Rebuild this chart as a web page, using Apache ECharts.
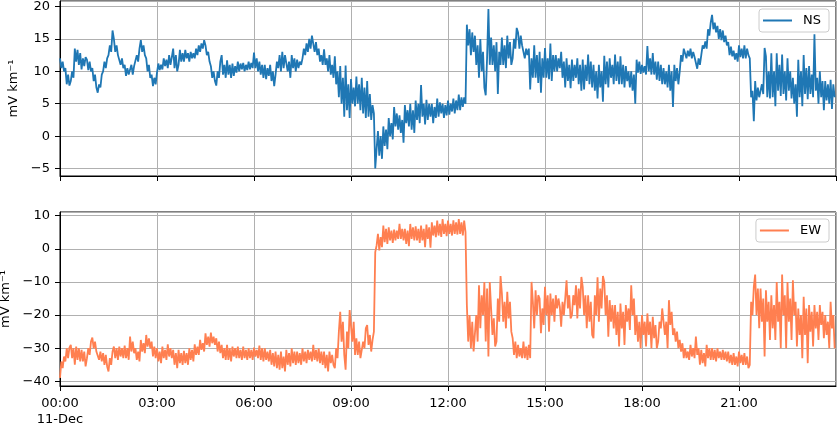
<!DOCTYPE html>
<html>
<head>
<meta charset="utf-8">
<title>NS / EW electric field</title>
<script src="https://cdn.jsdelivr.net/npm/echarts@6.0.0/dist/echarts.min.js"></script>
<style>
  html, body { margin: 0; padding: 0; background: #fff; }
  #chart { width: 837px; height: 423px; }
</style>
</head>
<body>
<div id="chart"></div>
<script>
const stepMinutes = 2.5;
const tickLabels = ["00:00\n11-Dec", "03:00", "06:00", "09:00", "12:00", "15:00", "18:00", "21:00"];
const unitLabel = "mV km⁻¹";

// NS component, one row per hour
const nsValues = [
  12, 10.5, 11.5, 10, 10.5, 8, 9.5, 7.8, 8.5, 10, 9, 13.5, 11.5, 13.3, 11, 12.8, 10.3, 12, 10.8, 12.2, 11.8, 10.2, 11.5, 10,
  10.5, 8.5, 9.5, 7.5, 6.7, 8, 7.5, 9.5, 10, 11.5, 10.5, 12, 12.5, 14, 13, 16.3, 15, 13, 14, 12.5, 12.5, 11, 12, 10.5,
  11, 9.3, 10.5, 9.5, 9.8, 11, 9.5, 10.8, 11, 12.5, 11.5, 13.5, 14.8, 13, 14, 12.5, 12, 10, 11, 9, 9.5, 7.7, 9, 8,
  9.8, 11.2, 10.2, 11, 10.3, 12, 10.8, 11.8, 10.5, 12.5, 11, 12.2, 13.5, 10.5, 12.5, 10, 11, 13.3, 11.5, 12.8, 11.5, 13.3, 12, 12.8,
  11.5, 13, 12, 12.8, 12, 13.5, 12.5, 14, 13, 14.3, 13.5, 14.8, 14, 12.5, 13, 11.5, 10.8, 9, 10, 8.5, 7.8, 10, 9, 11.5,
  12.5, 9.5, 11, 9, 11.7, 9.5, 11, 9, 11.2, 9.3, 10.8, 9.8, 11.5, 10, 11.2, 10.3, 11.3, 10, 11, 10.2, 11.5, 10.3, 11.3, 10.5,
  12.9, 10.5, 12, 10, 11.5, 9.5, 11, 9, 11, 8.8, 10.5, 9.3, 11, 8.5, 10, 7.7, 9.5, 11.5, 10.5, 12.5, 10, 13, 10.5, 12.5,
  12.3, 10, 11.5, 9, 12.5, 10.5, 12, 10, 11.8, 10.5, 11.5, 11, 12, 13.5, 12.5, 14.3, 13, 15, 13.5, 15.5, 15.5, 13, 14.5, 12.5,
  13.5, 11.5, 12.5, 11, 13.4, 11, 12, 10, 12.5, 9.5, 11, 9, 12.3, 8, 10, 6, 10.8, 5, 9, 3, 10.9, 4, 8, 2.8,
  8.8, 5, 7.5, 4.6, 9.2, 5, 8, 4, 9, 3.5, 7.5, 2.8, 8.5, 3, 6.5, 2.5, 4.8, 3.5, -5, -2, 0.8, -3, 0, -3.5,
  1.5, -1.5, 1, -2, 2.8, 0, 2, -0.5, 4.5, 1.5, 3.5, 1, 3.2, 0.5, 2.5, -1, 4.8, 2, 4, 1.5, 5, 1, 4, 0.5,
  5.5, 2.5, 5, 2, 7.9, 3, 5, 1.8, 5.6, 2.5, 5, 3, 5, 2, 4.5, 2.8, 5.8, 3, 5.2, 3.5, 5, 2.8, 4.8, 3.2,
  5.5, 3.3, 5, 3.8, 5.8, 3.5, 5.5, 4, 6.4, 4, 6, 4.5, 6, 5, 17.2, 14, 16.5, 12.5, 16, 13, 15.5, 11, 14, 9,
  15, 10, 13, 7.5, 6.3, 12, 19.6, 11, 15.2, 11, 14, 10, 14.5, 6.5, 13, 11, 15.2, 11, 14, 10.5, 15.5, 12, 14.5, 11,
  12, 15, 13.5, 16.7, 16, 13.5, 15.5, 14, 14.3, 12, 13.5, 12.5, 13.5, 7.2, 12, 9, 14, 9, 12.5, 8.2, 13, 6.7, 12, 9,
  13.6, 9, 12, 8.8, 14.3, 8.5, 12.5, 10, 12.5, 10, 12, 10.5, 13, 9, 11.5, 7.5, 12, 8.5, 11, 7.4, 11.8, 8.5, 11, 9,
  12, 8, 11, 7, 11.8, 7.2, 11, 8.5, 12.6, 8, 11.5, 7.5, 11, 7, 10, 5.8, 11, 7.5, 10, 5.3, 12.4, 8, 11.5, 7.5,
  12, 9, 11, 8, 12.6, 8.5, 11.5, 8, 12.3, 8, 11, 7.5, 10.8, 8.5, 10, 7.5, 10, 7, 9.5, 5, 11.8, 9.8, 11.5, 9.6,
  11, 9.8, 10.8, 9.5, 13.9, 10, 12, 9.5, 12.8, 9.5, 11.5, 8.7, 11.5, 8.5, 11, 8, 10.5, 8, 10, 7.5, 11, 7, 10, 4.5,
  11, 8.5, 10.5, 8, 10, 12.5, 11.5, 13.5, 13.6, 12, 13.2, 12.3, 13.5, 12, 13, 12.2, 12.5, 10.4, 12, 11, 12.5, 14, 13.5, 14.6,
  13.5, 16.5, 15.5, 17.5, 18.7, 16.5, 17.5, 16, 17, 15, 16.5, 14.8, 16.3, 14.5, 15.5, 14, 14.5, 12.5, 13.8, 12.3, 13.2, 11.8, 12.8, 11.5,
  14, 12.2, 13.5, 12, 14, 12, 13.5, 12.5, 12, 6, 7, 2.3, 8.5, 5.5, 7.5, 6, 5.8, 8, 6.5, 13.6, 12.3, 6, 10, 5.8,
  12.8, 6, 10, 4.6, 12.8, 7, 11, 6.2, 12.6, 6.5, 10, 5.5, 12, 7, 10, 5.8, 9, 5, 8, 3, 11.8, 6, 10, 4.6,
  12.5, 6.5, 10.5, 5.7, 10.8, 6.5, 9.5, 6, 15.7, 7, 9, 5, 10, 6, 8.5, 4, 8.5, 5.5, 8, 5, 8.7, 4.2, 8, 6
];

// EW component, one row per hour
const ewValues = [
  -39, -34, -36, -32.5, -34, -30, -33, -29.8, -29, -33, -30, -35, -29.5, -33.5, -30, -34, -30.5, -34, -31, -35.5, -33, -30, -32, -28,
  -26.8, -30, -28, -31, -30.5, -33.5, -31, -34, -31.5, -35, -32, -35.5, -37, -33, -35, -31, -29.5, -33, -30, -33.5, -29.5, -32.5, -30, -33,
  -29.2, -33, -30, -33.5, -26.5, -31, -28, -31.5, -30, -33.5, -31, -34, -27.5, -31, -28.5, -31.5, -26, -29.5, -27, -30, -28, -32.5, -29.5, -33,
  -30, -34, -31, -34.5, -29.5, -33, -30.5, -33.5, -28.8, -32.5, -30, -33, -30.5, -35, -31.5, -36, -30.5, -34.5, -31.5, -35, -30.8, -34.5, -31.5, -35,
  -30, -33.5, -30.5, -34, -28.8, -32, -29.5, -32, -27.5, -30.5, -28.5, -31, -25.5, -29, -26.5, -29.5, -25.3, -28.5, -26.5, -29, -27, -31, -28, -31.5,
  -29, -33, -30, -33.5, -29, -33.5, -30, -34, -29.5, -32.5, -30, -33, -29.5, -33, -30.5, -33.5, -29.5, -33, -30.5, -33.5, -30, -33, -30.5, -33.5,
  -29.8, -32.5, -30.5, -33, -29.2, -33.5, -30, -34, -30, -33.5, -31, -34, -30.5, -35, -31.5, -35.5, -31, -36, -32, -36.5, -31, -36, -32.5, -37,
  -30.5, -35, -31.5, -35.5, -30, -34.5, -31, -35, -31, -34.5, -31.5, -35, -30, -34, -31, -34.5, -30.5, -33.5, -31, -34, -29, -33.5, -30.5, -34,
  -30, -34.5, -31, -35, -31, -36, -32, -37, -31, -34.5, -32, -35, -36, -30, -33, -25, -19, -28, -22, -32, -36.5, -25, -30, -18.5,
  -19, -28, -22, -32, -27, -32, -28, -33, -33, -28, -30, -24, -23, -29, -26, -31, -27.5, -25, -1, 1, 4.5, -0.5, 3.5, 0.5,
  7, 2, 6, 1.5, 6.5, 2.5, 5.5, 1.8, 5.8, 2.5, 5.5, 3, 7.5, 3, 6, 2.5, 6, 1.5, 5.5, 0.8, 7.5, 3, 6.5, 2.5,
  6.8, 2.5, 6, 1.8, 7, 2.5, 6, 0.5, 7.3, 3, 6.5, 0.3, 8, 4, 7, 3.5, 8.5, 4, 7.5, 3.6, 9, 4.5, 7.5, 3.8,
  8.5, 4.5, 7.5, 4, 8.6, 4.5, 8, 4.3, 9, 4.5, 8, 4, 8.5, 5, -17, -28, -20, -30, -22, -31, -31, -20, -28, -11,
  -24, -14, -20, -10, -28, -12, -32.5, -10, -18, -26, -21, -29.5, -28, -15, -22, -8.2, -13.5, -22, -16, -24, -13, -21, -16, -25,
  -27, -32, -28, -33, -29, -32.5, -30, -33, -28, -33, -29.5, -33.5, -29, -33, -10, -16, -24, -12.5, -20, -14, -15, -25.5, -18, -23,
  -11.5, -20, -14, -25, -13.5, -20, -15, -22, -14, -18, -15, -17.5, -23.5, -16, -20, -15, -9.5, -18, -14, -21, -20, -14, -17, -11,
  -21, -12, -18, -8.5, -11.5, -20, -14, -24, -14, -22, -16, -26, -27, -14, -20, -8.6, -22, -12, -18, -8.2, -10, -20, -14, -26.5,
  -15.5, -22, -17, -24, -17, -26, -19, -29.5, -16.5, -24, -19, -29, -17, -22, -18, -24.5, -11, -20, -15, -26, -20, -28, -22, -30,
  -20, -26, -22, -29.5, -19.5, -26, -22, -30, -20.5, -27, -23, -30, -28, -22, -24, -18, -18.5, -26, -22, -30, -15.5, -23, -19, -26,
  -24, -28, -25, -30, -27.5, -31, -28.5, -33, -30, -33, -31, -33.5, -29, -32.5, -30, -33, -26.5, -32, -30, -35, -30.5, -34.5, -31.5, -35.5,
  -29, -33, -30, -33.5, -30, -33.5, -30.5, -34, -30, -33, -31, -33.5, -30.5, -33.5, -31, -34, -31, -34.5, -32, -35, -31.5, -35, -32.5, -35.5,
  -31, -34.5, -32, -35, -31.5, -35, -32.5, -36, -35, -16, -20, -11.5, -7.8, -20, -12, -24, -12, -22, -15, -32.5, -12.5, -22, -16, -27.5,
  -14, -24, -17, -27.5, -10, -22, -16, -30, -7.8, -20, -14, -30, -10, -22, -15, -27.5, -9.5, -20, -16, -29.5, -18, -26, -20, -33,
  -14.5, -26, -18, -34.5, -17, -25, -19, -29.5, -17, -24, -19, -27.5, -17, -23, -19, -27, -20, -26, -22, -30, -16, -24, -20, -30
];

const font = "DejaVu Sans";
const toPairs = (arr) => arr.map((v, i) => [i * stepMinutes, v]);
const minusSign = (v) => String(v).replace("-", "\u2212");

const xAxisBase = (gridIndex, showLabels) => ({
  type: "value",
  gridIndex: gridIndex,
  min: 0,
  max: 1440,
  interval: 180,
  axisLine: { show: true, onZero: false, lineStyle: { color: "#000", width: 1 } },
  axisTick: { show: true, length: 5, lineStyle: { color: "#000" } },
  axisLabel: {
    show: showLabels,
    showMaxLabel: false,
    margin: 10,
    color: "#000",
    fontFamily: font,
    fontSize: 13,
    lineHeight: 16,
    formatter: (v) => tickLabels[v / 180] || "",
  },
  splitLine: { show: true, lineStyle: { color: "#b0b0b0", width: 1 } },
});

const yAxisBase = (gridIndex, min, max, step) => ({
  type: "value",
  gridIndex: gridIndex,
  min: min,
  max: max,
  minInterval: step,
  maxInterval: step,
  name: unitLabel,
  nameLocation: "middle",
  nameGap: 28,
  nameTextStyle: { color: "#000", fontFamily: font, fontSize: 13 },
  axisLine: { show: true, lineStyle: { color: "#000", width: 1 } },
  axisTick: { show: true, length: 5, lineStyle: { color: "#000" } },
  axisLabel: {
    showMinLabel: false,
    showMaxLabel: false,
    margin: 10,
    color: "#000",
    fontFamily: font,
    fontSize: 13,
    formatter: minusSign,
  },
  splitLine: { show: true, lineStyle: { color: "#b0b0b0", width: 1 } },
});

const legendBase = (name, top) => ({
  data: [name],
  right: 8,
  top: top,
  orient: "vertical",
  icon: "rect",
  backgroundColor: "rgba(255,255,255,0.8)",
  borderColor: "#cccccc",
  borderWidth: 1,
  borderRadius: 3,
  padding: [4, 8, 4, 4],
  itemWidth: 29,
  itemHeight: 2,
  textStyle: { color: "#000", fontFamily: font, fontSize: 13, lineHeight: 15, padding: [0, 0, 0, 6] },
});

const option = {
  animation: false,
  textStyle: { fontFamily: font },
  grid: [
    { left: 60, top: 1, width: 776, height: 175, outerBoundsMode: "none", containLabel: false,
      show: true, borderColor: "#000", borderWidth: 1 },
    { left: 60, top: 212, width: 776, height: 174, outerBoundsMode: "none", containLabel: false,
      show: true, borderColor: "#000", borderWidth: 1 },
  ],
  legend: [legendBase("NS", 9), legendBase("EW", 219)],
  xAxis: [xAxisBase(0, false), xAxisBase(1, true)],
  yAxis: [yAxisBase(0, -6.15, 20.85, 5), yAxisBase(1, -41.4, 11.1, 10)],
  series: [
    {
      name: "NS",
      type: "line",
      xAxisIndex: 0,
      yAxisIndex: 0,
      symbol: "none",
      data: toPairs(nsValues),
      lineStyle: { color: "#1f77b4", width: 1.8 },
      itemStyle: { color: "#1f77b4" },
    },
    {
      name: "EW",
      type: "line",
      xAxisIndex: 1,
      yAxisIndex: 1,
      symbol: "none",
      data: toPairs(ewValues),
      lineStyle: { color: "#ff7f50", width: 1.8 },
      itemStyle: { color: "#ff7f50" },
    },
  ],
};

const chart = echarts.init(document.getElementById("chart"), null, { renderer: "canvas" });
chart.setOption(option);
</script>
</body>
</html>
